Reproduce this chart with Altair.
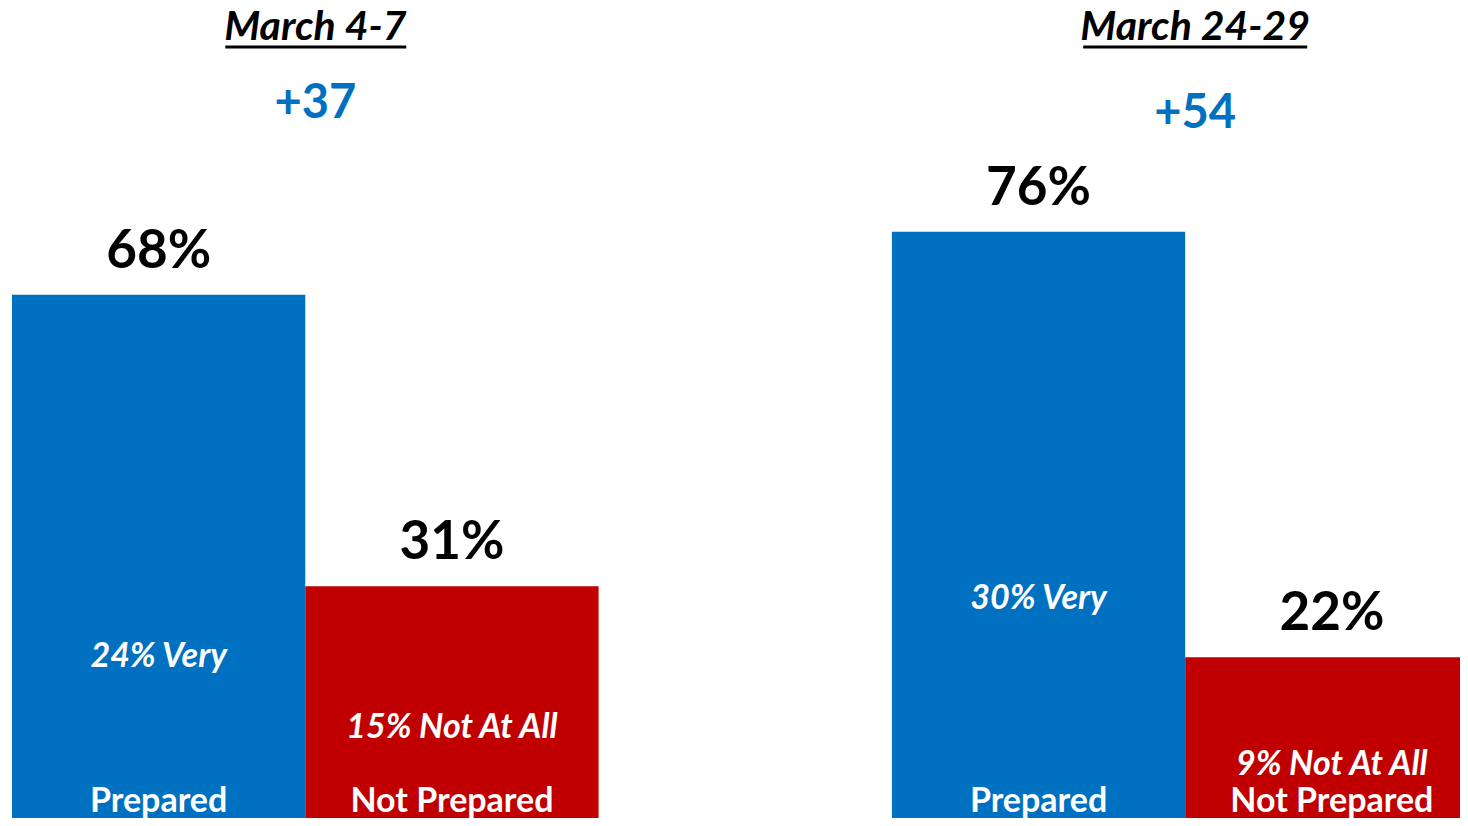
import altair as alt
import pandas as pd

# ---- data ----
periods = ["March 4-7", "March 24-29"]
categories = ["Prepared", "Not Prepared"]
prepared = [68, 76]
not_prepared = [31, 22]
very_prepared = [24, 30]
not_at_all = [15, 9]

BLUE = "#0070C0"
RED = "#C00000"
FONT = "Lato"

rows = []
for i, p in enumerate(periods):
    rows.append(dict(period=p, category="Prepared", slot=f"{p}|Prepared",
                     value=prepared[i], sub=very_prepared[i],
                     sublabel=f"{very_prepared[i]}% Very"))
    rows.append(dict(period=p, category="Not Prepared", slot=f"{p}|Not Prepared",
                     value=not_prepared[i], sub=not_at_all[i],
                     sublabel=f"{not_at_all[i]}% Not At All"))
bars = pd.DataFrame(rows)
bars["label"] = bars["value"].astype(str) + "%"

heads = pd.DataFrame(dict(
    period=periods,
    slot=[f"{p}|Not Prepared" for p in periods],
    net=[f"+{a - b}" for a, b in zip(prepared, not_prepared)],
))

slots = [f"{periods[0]}|Prepared", f"{periods[0]}|Not Prepared", "gap",
         f"{periods[1]}|Prepared", f"{periods[1]}|Not Prepared"]

W, H = 1452, 810
xscale = alt.Scale(domain=slots, range=[4, 1470.5], paddingInner=0, paddingOuter=0)
yscale = alt.Scale(domain=[1.6, 104.4], zero=False, nice=False)
X = alt.X("slot:N", scale=xscale, axis=None)

base = alt.Chart(bars)

bar_layer = base.mark_bar(clip=True).encode(
    x=X,
    y=alt.Y("value:Q", scale=yscale, axis=None),
    color=alt.Color("category:N", scale=alt.Scale(domain=categories, range=[BLUE, RED]), legend=None),
)

value_text = base.mark_text(font=FONT, fontSize=53, fontWeight="bold", color="black",
                            baseline="alphabetic", dy=-27).encode(
    x=X, y=alt.Y("value:Q", scale=yscale), text="label:N")

sub_layers = []
for p, off in zip(periods, [25.5, 15]):
    sub_layers.append(
        base.transform_filter(alt.datum.period == p).mark_text(
            font=FONT, fontSize=34, fontWeight="bold", fontStyle="italic", color="white",
            baseline="alphabetic", dy=off).encode(
            x=X, y=alt.Y("sub:Q", scale=yscale), text="sublabel:N"))

cat_text = base.mark_text(font=FONT, fontSize=34, fontWeight="bold", color="white",
                          baseline="alphabetic", dy=-18.5).encode(
    x=X, y=alt.YDatum(0, scale=yscale), text="category:N")

hbase = alt.Chart(heads)
XH = alt.X("slot:N", scale=xscale, bandPosition=0)
head_layers = []
for p, ynet, ul in zip(periods, [109.5, 120], [(-80, -45.65), (-102, -24.65)]):
    hb = hbase.transform_filter(alt.datum.period == p)
    head_layers.append(hb.mark_text(font=FONT, fontSize=41, fontWeight="bold", fontStyle="italic",
                                    color="black", baseline="alphabetic", dx=10).encode(
        x=XH, y=alt.value(32), text="period:N"))
    head_layers.append(hb.mark_rule(color="black", strokeWidth=3, xOffset=ul[0], x2Offset=ul[1]).encode(
        x=XH, x2=alt.X2("slot:N"), y=alt.value(39)))
    head_layers.append(hb.mark_text(font=FONT, fontSize=47, fontWeight="bold", color=BLUE,
                                    baseline="alphabetic", dx=10).encode(
        x=XH, y=alt.value(ynet), text="net:N"))

chart = alt.layer(bar_layer, value_text, *sub_layers, cat_text, *head_layers).properties(
    width=W, height=H, padding=0, autosize="none"
).configure_view(stroke=None)

chart.save("out.html", embed_options={"renderer": "svg", "actions": False})
